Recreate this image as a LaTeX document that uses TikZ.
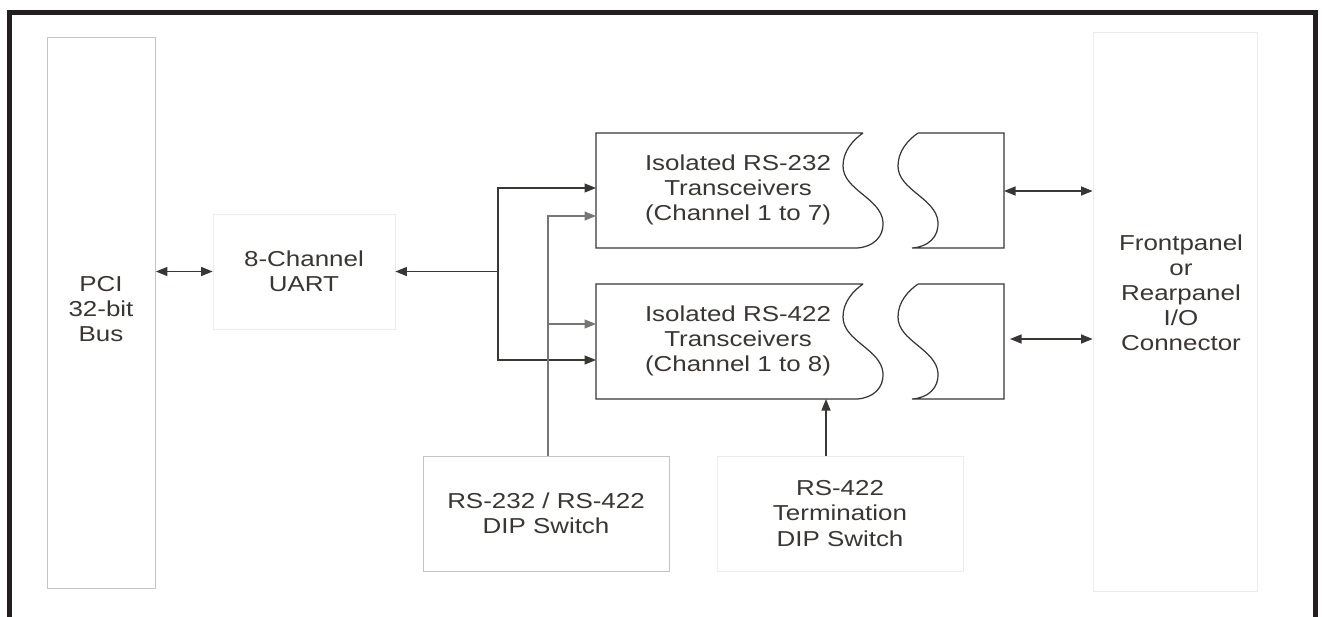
\documentclass[tikz,border=0pt]{standalone}
\usepackage{fontspec}
\setmainfont{Liberation Sans}[FakeStretch=1.2]
\usepackage{tikz}
\usetikzlibrary{arrows.meta}
\usetikzlibrary{positioning}
\definecolor{inkgray}{RGB}{58,54,52}
\definecolor{boxgray}{RGB}{196,196,196}
\definecolor{faintgray}{RGB}{236,236,236}
\definecolor{wiregray}{RGB}{120,118,116}
\definecolor{frameblack}{RGB}{35,31,32}
\tikzset{
  lbl/.style={font=\fontsize{12.3}{14.3}\selectfont,text=inkgray,align=center},
  blk/.style={lbl,draw=#1,line width=0.45pt,inner sep=0pt},
  wire/.style={draw=inkgray,line width=0.7pt},
}

\begin{document}
\begin{tikzpicture}[x=0.02cm,y=-0.02cm,>={Triangle[length=0.23cm,width=0.18cm]}]
\clip (0,0) rectangle (1322,616);
\fill[white] (0,0) rectangle (1322,616);
\draw[frameblack,line width=0.1cm] (9.5,640) -- (9.5,12) -- (1315,12) -- (1315,640);

% boxes
\node[blk=boxgray,minimum width=2.16cm,minimum height=11.01cm] (pci) at (101.5,312.75) {};
\node[lbl] (pcitext) at (101,309) {PCI\\32-bit\\Bus};
\node[blk=faintgray,minimum width=3.64cm,minimum height=2.3cm] (uart) at (304,271.5) {8-Channel\\UART};
\node[blk=boxgray,minimum width=4.92cm,minimum height=2.3cm] (dip) at (546,513.5) {RS-232 / RS-422\\DIP Switch};
\node[blk=faintgray,minimum width=4.92cm,minimum height=2.3cm] (term) at (840,513.5) {RS-422\\Termination\\DIP Switch};
\node[blk=faintgray,minimum width=3.28cm,minimum height=11.18cm] (conn) at (1175,311.5) {};
\node[lbl] (conntext) at (1181,293) {Frontpanel\\or\\Rearpanel\\I/O\\Connector};

% transceivers
\draw[wire] (863,133) -- (596,133) -- (596,248) -- (857,248) .. controls (873,247) and (884,237) .. (883,222) .. controls (881,198) and (843,190) .. (843,166) .. controls (843,151) and (853,140) .. (863,133);
\draw[wire] (918,133) -- (1004,133) -- (1004,248) -- (912,248) .. controls (928,247) and (939,237) .. (938,222) .. controls (936,198) and (898,190) .. (898,166) .. controls (898,151) and (908,140) .. (918,133);
\node[lbl] (t232) at (738,190) {Isolated RS-232\\Transceivers\\(Channel 1 to 7)};
\draw[wire] (863,284) -- (596,284) -- (596,399) -- (857,399) .. controls (873,398) and (884,388) .. (883,373) .. controls (881,349) and (843,341) .. (843,317) .. controls (843,302) and (853,291) .. (863,284);
\draw[wire] (918,284) -- (1004,284) -- (1004,399) -- (912,399) .. controls (928,398) and (939,388) .. (938,373) .. controls (936,349) and (898,341) .. (898,317) .. controls (898,302) and (908,291) .. (918,284);
\node[lbl] (t422) at (738,341) {Isolated RS-422\\Transceivers\\(Channel 1 to 8)};

\coordinate (x232) at (596,133);
\coordinate (x422) at (596,284);
\coordinate (busT) at (498,188);
\coordinate (busB) at (498,360);
\coordinate (dipT) at (548,216);
\coordinate (dipM) at (548,324);
\coordinate (tin) at (826,399);
\coordinate (o232) at (1004,191);
\coordinate (o422) at (1010,339);

% connectors
\draw[wire,<->] (pci.east |- uart) -- (uart.west);
\draw[wire,<-] (uart.east) -- (uart.east -| busT);
\draw[wire,<->] (busB -| x422) -- (busB) -- (busT) -- (busT -| x232);
\draw[wire,draw=wiregray,<-] (dipT -| x232) -- (dipT) -- (dip.north -| dipT);
\draw[wire,draw=wiregray,->] (dipM) -- (dipM -| x422);
\draw[wire,->] (term.north -| tin) -- (tin);
\draw[wire,<->] (o232) -- (o232 -| conn.west);
\draw[wire,<->] (o422) -- (o422 -| conn.west);

\end{tikzpicture}
\end{document}
